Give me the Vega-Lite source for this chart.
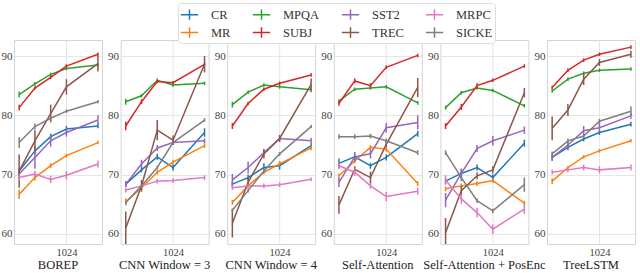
{
"$schema": "https://vega.github.io/schema/vega-lite/v6.json",
"padding": {"left": 0, "top": 2, "right": 0, "bottom": 0},
"background": "white",
"data": {"values": [
{"model":"BOREP","task":"CR","dim":128,"acc":70.6,"err":0.5},{"model":"BOREP","task":"CR","dim":256,"acc":74.0,"err":0.5},{"model":"BOREP","task":"CR","dim":512,"acc":76.4,"err":0.5},{"model":"BOREP","task":"CR","dim":1024,"acc":77.7,"err":0.5},{"model":"BOREP","task":"CR","dim":4096,"acc":78.2,"err":0.4},
{"model":"BOREP","task":"MR","dim":128,"acc":66.7,"err":0.8},{"model":"BOREP","task":"MR","dim":256,"acc":69.5,"err":0.5},{"model":"BOREP","task":"MR","dim":512,"acc":71.5,"err":0.4},{"model":"BOREP","task":"MR","dim":1024,"acc":73.2,"err":0.3},{"model":"BOREP","task":"MR","dim":4096,"acc":75.4,"err":0.3},
{"model":"BOREP","task":"MPQA","dim":128,"acc":83.5,"err":0.5},{"model":"BOREP","task":"MPQA","dim":256,"acc":85.3,"err":0.3},{"model":"BOREP","task":"MPQA","dim":512,"acc":86.9,"err":0.3},{"model":"BOREP","task":"MPQA","dim":1024,"acc":87.9,"err":0.3},{"model":"BOREP","task":"MPQA","dim":4096,"acc":88.5,"err":0.3},
{"model":"BOREP","task":"SUBJ","dim":128,"acc":81.3,"err":0.5},{"model":"BOREP","task":"SUBJ","dim":256,"acc":84.6,"err":0.3},{"model":"BOREP","task":"SUBJ","dim":512,"acc":86.4,"err":0.3},{"model":"BOREP","task":"SUBJ","dim":1024,"acc":88.3,"err":0.3},{"model":"BOREP","task":"SUBJ","dim":4096,"acc":90.3,"err":0.3},
{"model":"BOREP","task":"SST2","dim":128,"acc":70.1,"err":0.8},{"model":"BOREP","task":"SST2","dim":256,"acc":72.9,"err":1.9},{"model":"BOREP","task":"SST2","dim":512,"acc":75.7,"err":1.0},{"model":"BOREP","task":"SST2","dim":1024,"acc":77.1,"err":0.7},{"model":"BOREP","task":"SST2","dim":4096,"acc":79.2,"err":0.8},
{"model":"BOREP","task":"TREC","dim":128,"acc":70.6,"err":2.8},{"model":"BOREP","task":"TREC","dim":256,"acc":75.7,"err":1.8},{"model":"BOREP","task":"TREC","dim":512,"acc":80.3,"err":1.5},{"model":"BOREP","task":"TREC","dim":1024,"acc":84.8,"err":1.3},{"model":"BOREP","task":"TREC","dim":4096,"acc":88.7,"err":1.3},
{"model":"BOREP","task":"MRPC","dim":128,"acc":69.5,"err":0.5},{"model":"BOREP","task":"MRPC","dim":256,"acc":70.1,"err":0.5},{"model":"BOREP","task":"MRPC","dim":512,"acc":69.2,"err":0.6},{"model":"BOREP","task":"MRPC","dim":1024,"acc":69.9,"err":0.7},{"model":"BOREP","task":"MRPC","dim":4096,"acc":71.8,"err":0.6},
{"model":"BOREP","task":"SICKE","dim":128,"acc":75.4,"err":0.9},{"model":"BOREP","task":"SICKE","dim":256,"acc":78.1,"err":0.5},{"model":"BOREP","task":"SICKE","dim":512,"acc":79.5,"err":0.4},{"model":"BOREP","task":"SICKE","dim":1024,"acc":80.7,"err":0.3},{"model":"BOREP","task":"SICKE","dim":4096,"acc":82.3,"err":0.3},

{"model":"CNN Window = 3","task":"CR","dim":128,"acc":68.4,"err":0.5},{"model":"CNN Window = 3","task":"CR","dim":256,"acc":70.8,"err":0.4},{"model":"CNN Window = 3","task":"CR","dim":512,"acc":73.0,"err":0.5},{"model":"CNN Window = 3","task":"CR","dim":1024,"acc":71.2,"err":0.5},{"model":"CNN Window = 3","task":"CR","dim":4096,"acc":77.1,"err":0.7},
{"model":"CNN Window = 3","task":"MR","dim":128,"acc":65.4,"err":0.6},{"model":"CNN Window = 3","task":"MR","dim":256,"acc":67.8,"err":0.4},{"model":"CNN Window = 3","task":"MR","dim":512,"acc":70.4,"err":0.4},{"model":"CNN Window = 3","task":"MR","dim":1024,"acc":72.1,"err":0.4},{"model":"CNN Window = 3","task":"MR","dim":4096,"acc":74.9,"err":0.4},
{"model":"CNN Window = 3","task":"MPQA","dim":128,"acc":82.3,"err":0.5},{"model":"CNN Window = 3","task":"MPQA","dim":256,"acc":83.3,"err":0.3},{"model":"CNN Window = 3","task":"MPQA","dim":512,"acc":85.9,"err":0.3},{"model":"CNN Window = 3","task":"MPQA","dim":1024,"acc":85.1,"err":0.3},{"model":"CNN Window = 3","task":"MPQA","dim":4096,"acc":85.4,"err":0.3},
{"model":"CNN Window = 3","task":"SUBJ","dim":128,"acc":78.2,"err":0.7},{"model":"CNN Window = 3","task":"SUBJ","dim":256,"acc":82.3,"err":0.4},{"model":"CNN Window = 3","task":"SUBJ","dim":512,"acc":85.7,"err":0.3},{"model":"CNN Window = 3","task":"SUBJ","dim":1024,"acc":85.5,"err":0.3},{"model":"CNN Window = 3","task":"SUBJ","dim":4096,"acc":88.6,"err":0.3},
{"model":"CNN Window = 3","task":"SST2","dim":128,"acc":68.4,"err":0.5},{"model":"CNN Window = 3","task":"SST2","dim":256,"acc":71.8,"err":0.7},{"model":"CNN Window = 3","task":"SST2","dim":512,"acc":74.5,"err":0.5},{"model":"CNN Window = 3","task":"SST2","dim":1024,"acc":75.4,"err":0.3},{"model":"CNN Window = 3","task":"SST2","dim":4096,"acc":75.7,"err":0.4},
{"model":"CNN Window = 3","task":"TREC","dim":128,"acc":61.0,"err":2.8},{"model":"CNN Window = 3","task":"TREC","dim":256,"acc":68.1,"err":1.0},{"model":"CNN Window = 3","task":"TREC","dim":512,"acc":77.5,"err":1.7},{"model":"CNN Window = 3","task":"TREC","dim":1024,"acc":75.8,"err":0.8},{"model":"CNN Window = 3","task":"TREC","dim":4096,"acc":88.6,"err":1.4},
{"model":"CNN Window = 3","task":"MRPC","dim":128,"acc":67.4,"err":0.4},{"model":"CNN Window = 3","task":"MRPC","dim":256,"acc":68.1,"err":0.3},{"model":"CNN Window = 3","task":"MRPC","dim":512,"acc":68.9,"err":0.4},{"model":"CNN Window = 3","task":"MRPC","dim":1024,"acc":69.0,"err":0.4},{"model":"CNN Window = 3","task":"MRPC","dim":4096,"acc":69.5,"err":0.4},
{"model":"CNN Window = 3","task":"SICKE","dim":128,"acc":65.3,"err":0.3},{"model":"CNN Window = 3","task":"SICKE","dim":256,"acc":68.1,"err":0.3},{"model":"CNN Window = 3","task":"SICKE","dim":512,"acc":71.2,"err":0.3},{"model":"CNN Window = 3","task":"SICKE","dim":1024,"acc":75.4,"err":0.3},{"model":"CNN Window = 3","task":"SICKE","dim":4096,"acc":79.2,"err":0.3},

{"model":"CNN Window = 4","task":"CR","dim":128,"acc":68.4,"err":0.5},{"model":"CNN Window = 4","task":"CR","dim":256,"acc":69.5,"err":0.5},{"model":"CNN Window = 4","task":"CR","dim":512,"acc":71.2,"err":0.7},{"model":"CNN Window = 4","task":"CR","dim":1024,"acc":71.5,"err":0.7},{"model":"CNN Window = 4","task":"CR","dim":4096,"acc":74.9,"err":0.4},
{"model":"CNN Window = 4","task":"MR","dim":128,"acc":65.3,"err":0.4},{"model":"CNN Window = 4","task":"MR","dim":256,"acc":68.1,"err":0.4},{"model":"CNN Window = 4","task":"MR","dim":512,"acc":70.4,"err":0.4},{"model":"CNN Window = 4","task":"MR","dim":1024,"acc":71.8,"err":0.4},{"model":"CNN Window = 4","task":"MR","dim":4096,"acc":74.5,"err":0.4},
{"model":"CNN Window = 4","task":"MPQA","dim":128,"acc":81.8,"err":0.5},{"model":"CNN Window = 4","task":"MPQA","dim":256,"acc":83.9,"err":0.3},{"model":"CNN Window = 4","task":"MPQA","dim":512,"acc":85.1,"err":0.3},{"model":"CNN Window = 4","task":"MPQA","dim":1024,"acc":84.8,"err":0.3},{"model":"CNN Window = 4","task":"MPQA","dim":4096,"acc":84.3,"err":0.4},
{"model":"CNN Window = 4","task":"SUBJ","dim":128,"acc":78.2,"err":0.5},{"model":"CNN Window = 4","task":"SUBJ","dim":256,"acc":82.0,"err":0.3},{"model":"CNN Window = 4","task":"SUBJ","dim":512,"acc":84.4,"err":0.3},{"model":"CNN Window = 4","task":"SUBJ","dim":1024,"acc":85.4,"err":0.3},{"model":"CNN Window = 4","task":"SUBJ","dim":4096,"acc":86.8,"err":0.3},
{"model":"CNN Window = 4","task":"SST2","dim":128,"acc":69.1,"err":1.0},{"model":"CNN Window = 4","task":"SST2","dim":256,"acc":71.2,"err":1.0},{"model":"CNN Window = 4","task":"SST2","dim":512,"acc":73.7,"err":0.5},{"model":"CNN Window = 4","task":"SST2","dim":1024,"acc":76.1,"err":0.5},{"model":"CNN Window = 4","task":"SST2","dim":4096,"acc":75.7,"err":0.5},
{"model":"CNN Window = 4","task":"TREC","dim":128,"acc":61.8,"err":2.4},{"model":"CNN Window = 4","task":"TREC","dim":256,"acc":68.7,"err":0.8},{"model":"CNN Window = 4","task":"TREC","dim":512,"acc":73.5,"err":0.8},{"model":"CNN Window = 4","task":"TREC","dim":1024,"acc":76.1,"err":0.6},{"model":"CNN Window = 4","task":"TREC","dim":4096,"acc":85.2,"err":1.0},
{"model":"CNN Window = 4","task":"MRPC","dim":128,"acc":67.8,"err":0.4},{"model":"CNN Window = 4","task":"MRPC","dim":256,"acc":68.1,"err":0.3},{"model":"CNN Window = 4","task":"MRPC","dim":512,"acc":68.1,"err":0.4},{"model":"CNN Window = 4","task":"MRPC","dim":1024,"acc":68.3,"err":0.4},{"model":"CNN Window = 4","task":"MRPC","dim":4096,"acc":69.2,"err":0.3},
{"model":"CNN Window = 4","task":"SICKE","dim":128,"acc":64.0,"err":0.3},{"model":"CNN Window = 4","task":"SICKE","dim":256,"acc":67.3,"err":0.3},{"model":"CNN Window = 4","task":"SICKE","dim":512,"acc":70.6,"err":0.3},{"model":"CNN Window = 4","task":"SICKE","dim":1024,"acc":73.5,"err":0.3},{"model":"CNN Window = 4","task":"SICKE","dim":4096,"acc":78.1,"err":0.3},

{"model":"Self-Attention","task":"CR","dim":128,"acc":71.9,"err":0.8},{"model":"Self-Attention","task":"CR","dim":256,"acc":73.0,"err":0.5},{"model":"Self-Attention","task":"CR","dim":512,"acc":71.5,"err":0.5},{"model":"Self-Attention","task":"CR","dim":1024,"acc":72.9,"err":0.5},{"model":"Self-Attention","task":"CR","dim":4096,"acc":76.9,"err":0.5},
{"model":"Self-Attention","task":"MR","dim":128,"acc":69.8,"err":0.4},{"model":"Self-Attention","task":"MR","dim":256,"acc":72.3,"err":0.4},{"model":"Self-Attention","task":"MR","dim":512,"acc":74.6,"err":0.4},{"model":"Self-Attention","task":"MR","dim":1024,"acc":74.3,"err":0.4},{"model":"Self-Attention","task":"MR","dim":4096,"acc":68.5,"err":0.4},
{"model":"Self-Attention","task":"MPQA","dim":128,"acc":82.4,"err":0.3},{"model":"Self-Attention","task":"MPQA","dim":256,"acc":84.4,"err":0.3},{"model":"Self-Attention","task":"MPQA","dim":512,"acc":84.6,"err":0.3},{"model":"Self-Attention","task":"MPQA","dim":1024,"acc":84.8,"err":0.3},{"model":"Self-Attention","task":"MPQA","dim":4096,"acc":82.1,"err":0.3},
{"model":"Self-Attention","task":"SUBJ","dim":128,"acc":82.0,"err":0.4},{"model":"Self-Attention","task":"SUBJ","dim":256,"acc":85.8,"err":0.4},{"model":"Self-Attention","task":"SUBJ","dim":512,"acc":85.0,"err":0.4},{"model":"Self-Attention","task":"SUBJ","dim":1024,"acc":88.1,"err":0.3},{"model":"Self-Attention","task":"SUBJ","dim":4096,"acc":90.1,"err":0.3},
{"model":"Self-Attention","task":"SST2","dim":128,"acc":68.7,"err":0.8},{"model":"Self-Attention","task":"SST2","dim":256,"acc":73.0,"err":0.8},{"model":"Self-Attention","task":"SST2","dim":512,"acc":73.5,"err":0.8},{"model":"Self-Attention","task":"SST2","dim":1024,"acc":77.9,"err":0.8},{"model":"Self-Attention","task":"SST2","dim":4096,"acc":78.8,"err":1.2},
{"model":"Self-Attention","task":"TREC","dim":128,"acc":64.9,"err":1.5},{"model":"Self-Attention","task":"TREC","dim":256,"acc":70.9,"err":0.5},{"model":"Self-Attention","task":"TREC","dim":512,"acc":69.5,"err":1.0},{"model":"Self-Attention","task":"TREC","dim":1024,"acc":75.1,"err":0.5},{"model":"Self-Attention","task":"TREC","dim":4096,"acc":84.7,"err":1.6},
{"model":"Self-Attention","task":"MRPC","dim":128,"acc":71.5,"err":0.6},{"model":"Self-Attention","task":"MRPC","dim":256,"acc":70.4,"err":0.6},{"model":"Self-Attention","task":"MRPC","dim":512,"acc":68.1,"err":0.5},{"model":"Self-Attention","task":"MRPC","dim":1024,"acc":66.3,"err":0.8},{"model":"Self-Attention","task":"MRPC","dim":4096,"acc":67.2,"err":0.6},
{"model":"Self-Attention","task":"SICKE","dim":128,"acc":76.4,"err":0.4},{"model":"Self-Attention","task":"SICKE","dim":256,"acc":76.4,"err":0.4},{"model":"Self-Attention","task":"SICKE","dim":512,"acc":76.5,"err":0.4},{"model":"Self-Attention","task":"SICKE","dim":1024,"acc":75.7,"err":0.4},{"model":"Self-Attention","task":"SICKE","dim":4096,"acc":73.7,"err":0.4},

{"model":"Self-Attention + PosEnc","task":"CR","dim":128,"acc":68.9,"err":0.5},{"model":"Self-Attention + PosEnc","task":"CR","dim":256,"acc":70.2,"err":0.8},{"model":"Self-Attention + PosEnc","task":"CR","dim":512,"acc":71.2,"err":0.5},{"model":"Self-Attention + PosEnc","task":"CR","dim":1024,"acc":69.5,"err":0.5},{"model":"Self-Attention + PosEnc","task":"CR","dim":4096,"acc":75.3,"err":0.6},
{"model":"Self-Attention + PosEnc","task":"MR","dim":128,"acc":67.6,"err":0.4},{"model":"Self-Attention + PosEnc","task":"MR","dim":256,"acc":68.1,"err":0.4},{"model":"Self-Attention + PosEnc","task":"MR","dim":512,"acc":68.5,"err":0.4},{"model":"Self-Attention + PosEnc","task":"MR","dim":1024,"acc":69.0,"err":0.4},{"model":"Self-Attention + PosEnc","task":"MR","dim":4096,"acc":65.2,"err":0.4},
{"model":"Self-Attention + PosEnc","task":"MPQA","dim":128,"acc":81.3,"err":0.3},{"model":"Self-Attention + PosEnc","task":"MPQA","dim":256,"acc":83.8,"err":0.3},{"model":"Self-Attention + PosEnc","task":"MPQA","dim":512,"acc":84.6,"err":0.3},{"model":"Self-Attention + PosEnc","task":"MPQA","dim":1024,"acc":84.2,"err":0.3},{"model":"Self-Attention + PosEnc","task":"MPQA","dim":4096,"acc":81.6,"err":0.3},
{"model":"Self-Attention + PosEnc","task":"SUBJ","dim":128,"acc":78.2,"err":0.5},{"model":"Self-Attention + PosEnc","task":"SUBJ","dim":256,"acc":81.4,"err":0.5},{"model":"Self-Attention + PosEnc","task":"SUBJ","dim":512,"acc":85.0,"err":0.4},{"model":"Self-Attention + PosEnc","task":"SUBJ","dim":1024,"acc":85.9,"err":0.3},{"model":"Self-Attention + PosEnc","task":"SUBJ","dim":4096,"acc":88.3,"err":0.3},
{"model":"Self-Attention + PosEnc","task":"SST2","dim":128,"acc":65.7,"err":1.2},{"model":"Self-Attention + PosEnc","task":"SST2","dim":256,"acc":70.2,"err":0.8},{"model":"Self-Attention + PosEnc","task":"SST2","dim":512,"acc":74.4,"err":0.6},{"model":"Self-Attention + PosEnc","task":"SST2","dim":1024,"acc":75.7,"err":0.8},{"model":"Self-Attention + PosEnc","task":"SST2","dim":4096,"acc":77.5,"err":0.6},
{"model":"Self-Attention + PosEnc","task":"TREC","dim":128,"acc":60.2,"err":2.5},{"model":"Self-Attention + PosEnc","task":"TREC","dim":256,"acc":67.3,"err":0.8},{"model":"Self-Attention + PosEnc","task":"TREC","dim":512,"acc":69.8,"err":0.6},{"model":"Self-Attention + PosEnc","task":"TREC","dim":1024,"acc":70.8,"err":0.6},{"model":"Self-Attention + PosEnc","task":"TREC","dim":4096,"acc":83.8,"err":0.8},
{"model":"Self-Attention + PosEnc","task":"MRPC","dim":128,"acc":69.1,"err":0.8},{"model":"Self-Attention + PosEnc","task":"MRPC","dim":256,"acc":65.9,"err":0.8},{"model":"Self-Attention + PosEnc","task":"MRPC","dim":512,"acc":63.6,"err":0.8},{"model":"Self-Attention + PosEnc","task":"MRPC","dim":1024,"acc":60.8,"err":0.8},{"model":"Self-Attention + PosEnc","task":"MRPC","dim":4096,"acc":64.2,"err":0.8},
{"model":"Self-Attention + PosEnc","task":"SICKE","dim":128,"acc":73.7,"err":0.4},{"model":"Self-Attention + PosEnc","task":"SICKE","dim":256,"acc":69.5,"err":0.6},{"model":"Self-Attention + PosEnc","task":"SICKE","dim":512,"acc":65.6,"err":0.4},{"model":"Self-Attention + PosEnc","task":"SICKE","dim":1024,"acc":63.9,"err":0.4},{"model":"Self-Attention + PosEnc","task":"SICKE","dim":4096,"acc":68.3,"err":1.2},

{"model":"TreeLSTM","task":"CR","dim":128,"acc":72.9,"err":0.5},{"model":"TreeLSTM","task":"CR","dim":256,"acc":74.6,"err":0.5},{"model":"TreeLSTM","task":"CR","dim":512,"acc":76.0,"err":0.4},{"model":"TreeLSTM","task":"CR","dim":1024,"acc":77.1,"err":0.4},{"model":"TreeLSTM","task":"CR","dim":4096,"acc":78.5,"err":0.4},
{"model":"TreeLSTM","task":"MR","dim":128,"acc":68.9,"err":0.5},{"model":"TreeLSTM","task":"MR","dim":256,"acc":71.2,"err":0.3},{"model":"TreeLSTM","task":"MR","dim":512,"acc":73.0,"err":0.3},{"model":"TreeLSTM","task":"MR","dim":1024,"acc":74.0,"err":0.3},{"model":"TreeLSTM","task":"MR","dim":4096,"acc":75.7,"err":0.3},
{"model":"TreeLSTM","task":"MPQA","dim":128,"acc":84.1,"err":0.3},{"model":"TreeLSTM","task":"MPQA","dim":256,"acc":86.1,"err":0.3},{"model":"TreeLSTM","task":"MPQA","dim":512,"acc":87.1,"err":0.3},{"model":"TreeLSTM","task":"MPQA","dim":1024,"acc":87.6,"err":0.3},{"model":"TreeLSTM","task":"MPQA","dim":4096,"acc":87.8,"err":0.3},
{"model":"TreeLSTM","task":"SUBJ","dim":128,"acc":84.7,"err":0.3},{"model":"TreeLSTM","task":"SUBJ","dim":256,"acc":87.6,"err":0.3},{"model":"TreeLSTM","task":"SUBJ","dim":512,"acc":89.3,"err":0.3},{"model":"TreeLSTM","task":"SUBJ","dim":1024,"acc":90.3,"err":0.3},{"model":"TreeLSTM","task":"SUBJ","dim":4096,"acc":91.5,"err":0.3},
{"model":"TreeLSTM","task":"SST2","dim":128,"acc":72.9,"err":0.6},{"model":"TreeLSTM","task":"SST2","dim":256,"acc":75.0,"err":0.6},{"model":"TreeLSTM","task":"SST2","dim":512,"acc":77.4,"err":0.8},{"model":"TreeLSTM","task":"SST2","dim":1024,"acc":77.9,"err":0.8},{"model":"TreeLSTM","task":"SST2","dim":4096,"acc":79.9,"err":0.5},
{"model":"TreeLSTM","task":"TREC","dim":128,"acc":77.8,"err":2.0},{"model":"TreeLSTM","task":"TREC","dim":256,"acc":80.9,"err":1.0},{"model":"TreeLSTM","task":"TREC","dim":512,"acc":86.1,"err":1.0},{"model":"TreeLSTM","task":"TREC","dim":1024,"acc":88.9,"err":0.6},{"model":"TreeLSTM","task":"TREC","dim":4096,"acc":90.3,"err":0.6},
{"model":"TreeLSTM","task":"MRPC","dim":128,"acc":70.4,"err":0.4},{"model":"TreeLSTM","task":"MRPC","dim":256,"acc":70.8,"err":0.4},{"model":"TreeLSTM","task":"MRPC","dim":512,"acc":71.2,"err":0.5},{"model":"TreeLSTM","task":"MRPC","dim":1024,"acc":70.8,"err":0.6},{"model":"TreeLSTM","task":"MRPC","dim":4096,"acc":71.2,"err":0.5},
{"model":"TreeLSTM","task":"SICKE","dim":128,"acc":73.5,"err":0.4},{"model":"TreeLSTM","task":"SICKE","dim":256,"acc":75.7,"err":0.4},{"model":"TreeLSTM","task":"SICKE","dim":512,"acc":76.5,"err":0.4},{"model":"TreeLSTM","task":"SICKE","dim":1024,"acc":79.0,"err":0.4},{"model":"TreeLSTM","task":"SICKE","dim":4096,"acc":80.7,"err":0.8}
]},
"facet": {"column": {"field": "model", "type": "nominal", "title": null,
  "sort": ["BOREP","CNN Window = 3","CNN Window = 4","Self-Attention","Self-Attention + PosEnc","TreeLSTM"],
  "header": {"labelOrient": "bottom", "labelFont": "Liberation Serif", "labelFontSize": 12.5, "labelColor": "#222", "labelPadding": 1}}},
"spacing": 18.6,
"bounds": "flush",
"resolve": {"axis": {"y": "independent"}},
"spec": {
  "width": 88, "height": 204,
  "encoding": {
    "x": {"field": "dim", "type": "quantitative",
      "scale": {"type": "log", "base": 2, "domain": [102, 4900], "nice": false},
      "axis": {"title": null, "values": [1024], "format": "d", "ticks": false, "domain": false, "labelPadding": 3, "labelFontSize": 10.5, "labelFlush": false}},
    "color": {"field": "task", "type": "nominal",
      "scale": {"domain": ["CR","MR","MPQA","SUBJ","SST2","TREC","MRPC","SICKE"],
                "range": ["#1f77b4","#ff7f0e","#2ca02c","#d62728","#9467bd","#8c564b","#e377c2","#7f7f7f"]},
      "legend": {"title": null}}
  },
  "layer": [
    {"mark": {"type": "line", "strokeWidth": 1.5, "clip": true},
     "encoding": {"y": {"field": "acc", "type": "quantitative",
        "scale": {"domain": [58.3, 92.7], "nice": false, "zero": false},
        "axis": {"title": null, "values": [60,65,70,75,80,85,90], "ticks": false, "domain": false, "labelPadding": 2}}}},
    {"mark": {"type": "errorbar", "thickness": 1.5, "clip": true},
     "encoding": {"y": {"field": "acc", "type": "quantitative"}, "yError": {"field": "err"}}}
  ]
},
"config": {
  "view": {"stroke": "#d4d4d4", "strokeWidth": 1},
  "axis": {"labelFont": "Liberation Serif", "labelFontSize": 11, "labelColor": "#444", "gridColor": "#e5e5e5", "gridWidth": 1},
  "legend": {"orient": "none", "legendX": 164, "legendY": -37, "columns": 4, "direction": "vertical",
    "labelFont": "Liberation Serif", "labelFontSize": 12.5, "labelColor": "#333",
    "symbolType": "M-1,0H1M0,-0.6V0.6", "symbolSize": 300, "symbolStrokeWidth": 1.5,
    "labelOffset": 12, "columnPadding": 18, "rowPadding": -3, "padding": 2,
    "strokeColor": "#dddddd", "cornerRadius": 3, "fillColor": "white"}
}
}
